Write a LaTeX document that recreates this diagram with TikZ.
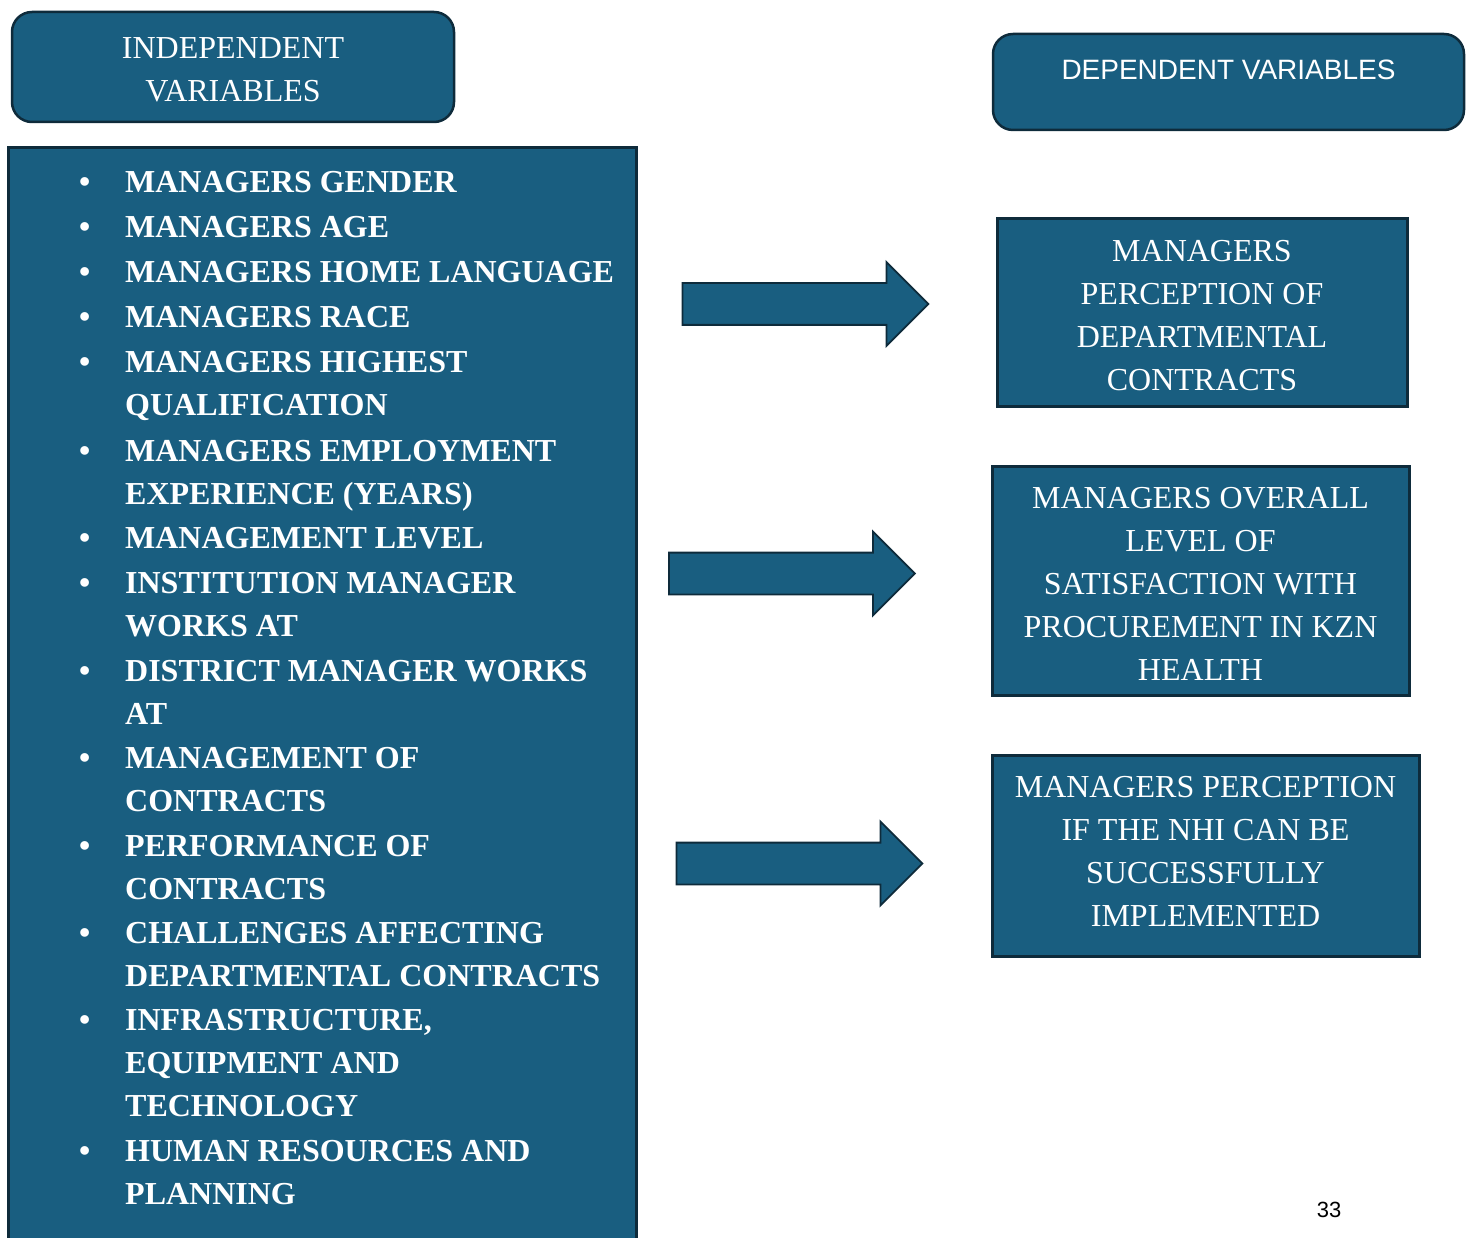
\documentclass[tikz,border=0pt]{standalone}
\usepackage{fontspec}
\setmainfont{Liberation Serif}
\newfontfamily\headsans{Liberation Sans}
\usetikzlibrary{shapes.arrows}

\definecolor{boxfill}{RGB}{25,94,128}
\definecolor{boxline}{RGB}{14,43,59}

\tikzset{
  headbox/.style={draw=boxline, line width=2.5pt, fill=boxfill, rounded corners=20pt,
    text=white, align=center, inner sep=0pt},
  depbox/.style={draw=boxline, line width=3pt, fill=boxfill, text=white,
    align=center, inner sep=0pt, font=\fontsize{32}{43}\selectfont},
  listitem/.style={anchor=base west, inner sep=0pt, text=white,
    font=\fontsize{32}{43}\selectfont\bfseries},
  blockarrow/.style={single arrow, draw=boxline, line width=1.8pt, fill=boxfill,
    inner xsep=0pt, inner ysep=20pt, single arrow head extend=21pt,
    single arrow head indent=0pt, minimum height=246pt},
}

% one bullet point, with its lines broken as printed
\newcommand{\bulletline}[1]{\makebox[46pt][l]{\textbullet}\parbox[t]{520pt}{\raggedright #1}}
% centred block of lines, moved vertically by #1 inside its box
\newcommand{\shiftlines}[3]{\raisebox{#1}[\height][\depth]{\parbox{#2}{\centering #3}}}

\begin{document}
\begin{tikzpicture}[x=1pt, y=-1pt]
\useasboundingbox (0,0) rectangle (1470,1238);

% headers
\node[headbox, minimum width=442pt, minimum height=110pt,
      font=\fontsize{32}{43}\selectfont] (indep) at (233,67)
  {\shiftlines{-3pt}{400pt}{INDEPENDENT\\VARIABLES}};
\node[headbox, minimum width=471pt, minimum height=96pt,
      font=\headsans\fontsize{28}{34}\selectfont] (dep) at (1228.5,82)
  {\raisebox{2pt}[0pt][0pt]{DEPENDENT VARIABLES}};

% list of independent variables
\node[draw=boxline, line width=3pt, fill=boxfill, minimum width=628pt,
      minimum height=1100pt, inner sep=0pt] (list) at (322,698) {};

\node[listitem] (i1)  at (79,193)  {\bulletline{MANAGERS GENDER}};
\node[listitem] (i2)  at (79,238)  {\bulletline{MANAGERS AGE}};
\node[listitem] (i3)  at (79,283)  {\bulletline{MANAGERS HOME LANGUAGE}};
\node[listitem] (i4)  at (79,328)  {\bulletline{MANAGERS RACE}};
\node[listitem] (i5)  at (79,373)  {\bulletline{MANAGERS HIGHEST\\QUALIFICATION}};
\node[listitem] (i6)  at (79,461)  {\bulletline{MANAGERS EMPLOYMENT\\EXPERIENCE (YEARS)}};
\node[listitem] (i7)  at (79,548)  {\bulletline{MANAGEMENT LEVEL}};
\node[listitem] (i8)  at (79,593)  {\bulletline{INSTITUTION MANAGER\\WORKS AT}};
\node[listitem] (i9)  at (79,681)  {\bulletline{DISTRICT MANAGER WORKS\\AT}};
\node[listitem] (i10) at (79,768)  {\bulletline{MANAGEMENT OF\\CONTRACTS}};
\node[listitem] (i11) at (79,856)  {\bulletline{PERFORMANCE OF\\CONTRACTS}};
\node[listitem] (i12) at (79,943)  {\bulletline{CHALLENGES AFFECTING\\DEPARTMENTAL CONTRACTS}};
\node[listitem] (i13) at (79,1030) {\bulletline{INFRASTRUCTURE,\\EQUIPMENT AND\\TECHNOLOGY}};
\node[listitem] (i14) at (79,1161) {\bulletline{HUMAN RESOURCES AND\\PLANNING}};

% dependent variables
\node[depbox, minimum width=410pt, minimum height=188pt] (d1) at (1202,313)
  {\shiftlines{-3pt}{400pt}{MANAGERS\\PERCEPTION OF\\DEPARTMENTAL\\CONTRACTS}};
\node[depbox, minimum width=417pt, minimum height=229pt] (d2) at (1200.5,580.5)
  {\shiftlines{-3pt}{410pt}{MANAGERS OVERALL\\LEVEL OF\\SATISFACTION WITH\\PROCUREMENT IN KZN\\HEALTH}};
\node[depbox, minimum width=427pt, minimum height=201pt] (d3) at (1205.5,855.5)
  {\shiftlines{4pt}{420pt}{MANAGERS PERCEPTION\\IF THE NHI CAN BE\\SUCCESSFULLY\\IMPLEMENTED}};

% block arrows from the list to each outcome
\node[blockarrow] (a1) at (795,304) {};
\node[blockarrow] (a2) at (781.5,573.5) {};
\node[blockarrow] (a3) at (789,863.5) {};

% page number
\node[font=\headsans\fontsize{22}{26}\selectfont, inner sep=0pt] (pg) at (1329,1210) {33};
\end{tikzpicture}
\end{document}
